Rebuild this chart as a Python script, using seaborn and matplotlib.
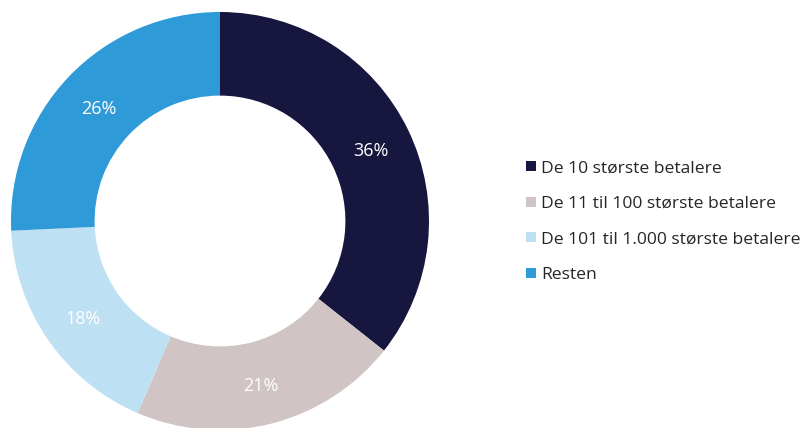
import numpy as np
import matplotlib
matplotlib.use("Agg")
import matplotlib.pyplot as plt
from matplotlib.lines import Line2D
import seaborn as sns

labels = ["De 10 største betalere", "De 11 til 100 største betalere",
          "De 101 til 1.000 største betalere", "Resten"]
shares = [36, 21, 18, 26]
colors = ["#16163F", "#D0C4C4", "#BDE0F3", "#2F9AD8"]

sns.set_theme(style="white")
plt.rcParams["font.family"] = ["Open Sans", "DejaVu Sans"]

fig = plt.figure(figsize=(8.04, 4.28), dpi=100)
ax = fig.add_axes([11 / 804, (207 - 209) / 428, 418 / 804, 418 / 428])

wedges, texts = ax.pie(shares, colors=sns.color_palette(colors), startangle=90,
                       counterclock=False, radius=1,
                       wedgeprops=dict(width=0.4, linewidth=0))
for w, v in zip(wedges, shares):
    ang = np.deg2rad((w.theta1 + w.theta2) / 2)
    ax.text(0.8 * np.cos(ang), 0.8 * np.sin(ang) - 0.015, f"{v}%", color="white",
            ha="center", va="center", fontsize=13)
ax.set_xlim(-1, 1)
ax.set_ylim(-1, 1)
ax.set_aspect("equal")
ax.axis("off")

handles = [Line2D([], [], marker="s", linestyle="none", markersize=7,
                  markerfacecolor=c, markeredgewidth=0) for c in colors]
fig.legend(handles, labels, loc="center left", bbox_to_anchor=(0.646, 0.482),
           frameon=False, fontsize=12.6, handlelength=0.55, handletextpad=0.3,
           labelspacing=1.1, borderaxespad=0)

fig.savefig("out.png", dpi=100)
